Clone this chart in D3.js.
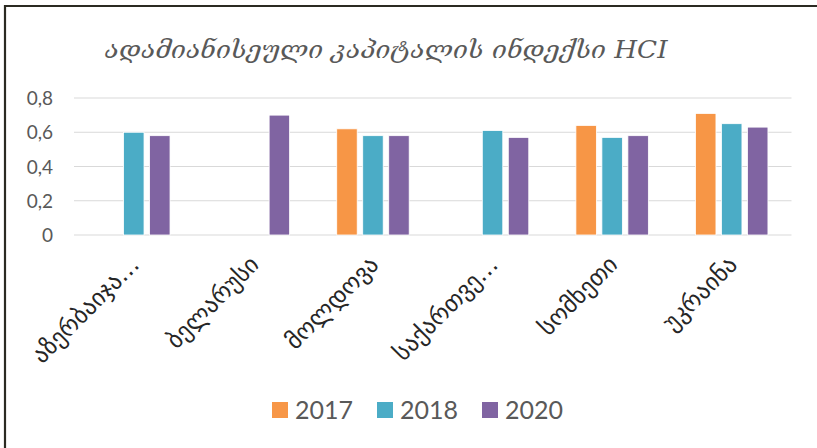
<!DOCTYPE html>
<html><head><meta charset="utf-8">
<script src="https://cdn.jsdelivr.net/npm/d3@7"></script>
<style>html,body{margin:0;padding:0;background:#fff;}</style>
</head><body>
<svg id="chart" width="817" height="448"></svg>
<script>
const categories = ["აზერბაიჯა…", "ბელარუსი", "მოლდოვა", "საქართვე…", "სომხეთი", "უკრაინა"];
const seriesNames = ["2017", "2018", "2020"];
const values2017 = [null, null, 0.62, null, 0.64, 0.71];
const values2018 = [0.60, null, 0.58, 0.61, 0.57, 0.65];
const values2020 = [0.58, 0.70, 0.58, 0.57, 0.58, 0.63];
const colors = ["#F79646", "#4BACC6", "#8064A2"];
const yTicks = [0, 0.2, 0.4, 0.6, 0.8];
const yTickLabels = ["0", "0,2", "0,4", "0,6", "0,8"];
const titleText = "ადამიანისეული კაპიტალის ინდექსი   HCI";

const seriesValues = [values2017, values2018, values2020];
const svg = d3.select("#chart");

// border (top + left)
svg.append("line").attr("x1",5).attr("x2",817).attr("y1",6).attr("y2",6).attr("stroke","#2b2a22").attr("stroke-width",2.2);
svg.append("line").attr("x1",5).attr("x2",5).attr("y1",5).attr("y2",448).attr("stroke","#2b2a22").attr("stroke-width",2.2);

const plotL = 74, plotR = 791.5, plotT = 98, plotB = 235;
const x = d3.scaleBand().domain(categories).range([plotL, plotR]).paddingInner(0.394).paddingOuter(0.197);
const xs = d3.scaleBand().domain(seriesNames).range([0, x.bandwidth()]).paddingInner(0.212);
const y = d3.scaleLinear().domain([0, 0.8]).range([plotB, plotT]);

// gridlines
svg.append("g").selectAll("line").data(yTicks).join("line")
  .attr("x1", plotL).attr("x2", plotR)
  .attr("y1", d => y(d)).attr("y2", d => y(d))
  .attr("stroke", "#d9d9d9").attr("stroke-width", 1.2);

// y axis labels
const yAxis = d3.axisLeft(y).tickValues(yTicks).tickFormat((d,i) => yTickLabels[i]).tickSize(0).tickPadding(0);
const gy = svg.append("g").attr("transform", `translate(53,0)`).call(yAxis);
gy.select(".domain").remove();
gy.selectAll("text").attr("fill", "#595959").style("font-family", "Lato, 'Open Sans', sans-serif").style("font-size", "19px").attr("dy", "0.35em");

// bars
seriesNames.forEach((s, si) => {
  const data = categories.map((c, ci) => ({c, v: seriesValues[si][ci]})).filter(d => d.v !== null);
  svg.append("g").selectAll("rect").data(data).join("rect")
    .attr("x", d => x(d.c) + xs(s))
    .attr("y", d => y(d.v))
    .attr("width", xs.bandwidth())
    .attr("height", d => y(0) - y(d.v))
    .attr("fill", colors[si])
    .attr("stroke", "#fff").attr("stroke-width", 0.8);
});

// x labels
const xAxis = d3.axisBottom(x).tickSize(0).tickPadding(0);
const gx = svg.append("g").attr("transform", `translate(0,${plotB})`).call(xAxis);
gx.select(".domain").remove();
gx.selectAll("text")
  .attr("fill", "#262626")
  .style("font-family", "'DejaVu Sans', sans-serif")
  .style("font-size", "24px")
  .attr("text-anchor", "end")
  .attr("dy", 0).attr("y", 0)
  .attr("transform", "translate(7,31) rotate(-45)");

// title
svg.append("text").attr("x", 386).attr("y", 58).attr("text-anchor", "middle")
  .attr("fill", "#595959").style("font-family", "'DejaVu Serif', 'DejaVu Sans', serif")
  .style("font-style", "italic").style("font-size", "25px")
  .attr("textLength", 563).attr("lengthAdjust", "spacingAndGlyphs")
  .text(titleText);

// legend
const legend = svg.append("g");
seriesNames.forEach((s, i) => {
  const lx = 272 + i * 105;
  legend.append("rect").attr("x", lx).attr("y", 402).attr("width", 16).attr("height", 16).attr("fill", colors[i]);
  legend.append("text").attr("x", lx + 23).attr("y", 419).attr("fill", "#595959")
    .style("font-family", "Lato, 'Open Sans', sans-serif").style("font-size", "25px").text(s);
});
</script>
</body></html>
